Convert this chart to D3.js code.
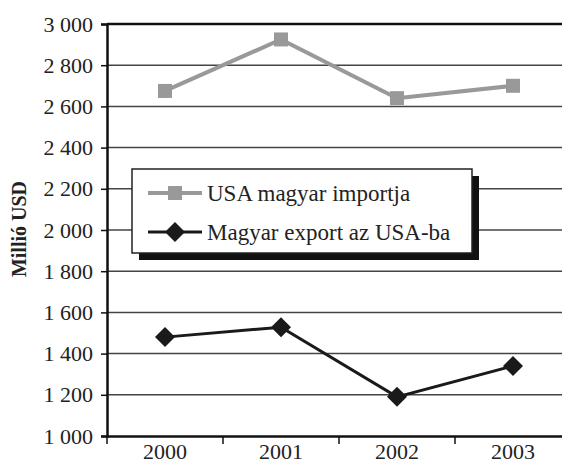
<!DOCTYPE html>
<html>
<head>
<meta charset="utf-8">
<script src="https://cdn.jsdelivr.net/npm/d3@7"></script>
<style>
  body { margin: 0; background: #fff; }
  svg { display: block; }
  svg text { font-family: 'Liberation Serif', 'Times New Roman', 'DejaVu Serif', serif; }
</style>
</head>
<body>
<div id="chart"></div>
<script>
var years = ["2000", "2001", "2002", "2003"];
var importValues = [2675, 2925, 2640, 2700];
var exportValues = [1480, 1528, 1190, 1340];
var seriesNames = ["USA magyar importja", "Magyar export az USA-ba"];
var yTicks = [1000, 1200, 1400, 1600, 1800, 2000, 2200, 2400, 2600, 2800, 3000];

var width = 562, height = 466;
var margin = {top: 24, right: -9, bottom: 30, left: 107};
var plotWidth = width - margin.left - margin.right;
var plotHeight = height - margin.top - margin.bottom;

var svg = d3.select("#chart").append("svg")
    .attr("width", width).attr("height", height);
var plotArea = svg.append("g")
    .attr("transform", "translate(" + margin.left + "," + margin.top + ")");

var xs = d3.scaleBand().domain(years).range([0, plotWidth]);
var ys = d3.scaleLinear().domain([1000, 3000]).range([plotHeight, 0]);

var fmt = function(d) { return d3.format(",")(d).replace(",", " "); };

// grid
plotArea.append("g").selectAll("line")
    .data(yTicks.filter(function(d) { return d > 1000; }))
    .enter().append("line")
    .attr("x1", 0).attr("x2", plotWidth)
    .attr("y1", function(d) { return ys(d); })
    .attr("y2", function(d) { return ys(d); })
    .attr("stroke", function(d) { return d === 3000 ? "#111" : "#444"; })
    .attr("stroke-width", function(d) { return d === 3000 ? 2.5 : 1.5; });

// y axis
var yAxis = plotArea.append("g")
    .call(d3.axisLeft(ys).tickValues(yTicks).tickFormat(fmt).tickSize(6).tickPadding(8));
yAxis.attr("font-family", null);
yAxis.select(".domain").attr("stroke", "#111").attr("stroke-width", 2.5);
yAxis.selectAll(".tick line").attr("stroke", "#111").attr("stroke-width", 1.5);
yAxis.selectAll("text").attr("font-size", 22).attr("fill", "#222");

// x axis
var xAxis = plotArea.append("g")
    .attr("transform", "translate(0," + plotHeight + ")")
    .call(d3.axisBottom(xs).tickSize(0).tickPadding(7));
xAxis.attr("font-family", null);
xAxis.select(".domain").attr("stroke", "#111").attr("stroke-width", 2.5);
xAxis.selectAll("text").attr("font-size", 22).attr("fill", "#222");
xAxis.selectAll(".sep")
    .data(years).enter().append("line")
    .attr("class", "sep")
    .attr("x1", function(d) { return xs(d); })
    .attr("x2", function(d) { return xs(d); })
    .attr("y1", 0).attr("y2", 8)
    .attr("stroke", "#111").attr("stroke-width", 1.5);

// y title
svg.append("text")
    .attr("transform", "translate(26,229) rotate(-90)")
    .attr("text-anchor", "middle")
    .attr("font-weight", "bold").attr("font-size", 20).attr("fill", "#222")
    .text("Millió USD");

var cx = function(d, i) { return xs(years[i]) + xs.bandwidth() / 2; };
var line = d3.line().x(cx).y(function(d) { return ys(d); });

// import series
plotArea.append("path").datum(importValues)
    .attr("d", line).attr("fill", "none")
    .attr("stroke", "#999").attr("stroke-width", 4);
plotArea.selectAll(".sq").data(importValues).enter().append("rect")
    .attr("class", "sq")
    .attr("x", function(d, i) { return cx(d, i) - 7; })
    .attr("y", function(d) { return ys(d) - 7; })
    .attr("width", 14).attr("height", 14)
    .attr("fill", "#999");

// export series
plotArea.append("path").datum(exportValues)
    .attr("d", line).attr("fill", "none")
    .attr("stroke", "#1a1a1a").attr("stroke-width", 3);
var diamond = "M0,-10L10,0L0,10L-10,0Z";
plotArea.selectAll(".dm").data(exportValues).enter().append("path")
    .attr("class", "dm")
    .attr("transform", function(d, i) { return "translate(" + cx(d, i) + "," + ys(d) + ")"; })
    .attr("d", diamond).attr("fill", "#1a1a1a");

// legend
var lg = svg.append("g").attr("transform", "translate(132,169)");
lg.append("rect").attr("x", 7).attr("y", 7).attr("width", 340).attr("height", 84).attr("fill", "#111");
lg.append("rect").attr("x", 0).attr("y", 0).attr("width", 340).attr("height", 84)
    .attr("fill", "#fff").attr("stroke", "#222").attr("stroke-width", 1.5);

var rows = lg.selectAll(".row").data(seriesNames).enter().append("g")
    .attr("transform", function(d, i) { return "translate(0," + (24 + i * 39) + ")"; });
rows.append("line").attr("x1", 16).attr("x2", 70).attr("y1", 0).attr("y2", 0)
    .attr("stroke", function(d, i) { return i === 0 ? "#999" : "#1a1a1a"; })
    .attr("stroke-width", function(d, i) { return i === 0 ? 4 : 3; });
rows.filter(function(d, i) { return i === 0; }).append("rect")
    .attr("x", 36).attr("y", -7).attr("width", 14).attr("height", 14).attr("fill", "#999");
rows.filter(function(d, i) { return i === 1; }).append("path")
    .attr("transform", "translate(43,0)").attr("d", diamond).attr("fill", "#1a1a1a");
rows.append("text").attr("x", 75).attr("y", 8)
    .attr("font-size", 23).attr("fill", "#222")
    .text(function(d) { return d; });
</script>
</body>
</html>
